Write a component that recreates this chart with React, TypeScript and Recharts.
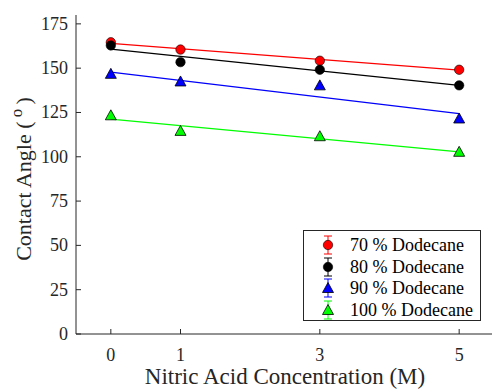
import React from 'react';
import { ComposedChart, Scatter, Line, XAxis, YAxis, Legend } from 'recharts';

const concentrations = [0, 1, 3, 5];
const dodecane70 = [164.6, 160.5, 154.2, 149.1];
const dodecane80 = [162.8, 153.4, 149.1, 140.3];
const dodecane90 = [146.8, 142.5, 140.3, 121.6];
const dodecane100 = [123.4, 114.6, 111.6, 102.8];

const fitX = [0, 5];
const fit70 = [164.0, 148.9];
const fit80 = [160.7, 140.3];
const fit90 = [147.8, 124.4];
const fit100 = [121.2, 102.8];

const xTicks = [0, 1, 3, 5];
const yTicks = [0, 25, 50, 75, 100, 125, 150, 175];
const seriesNames = ['70 % Dodecane', '80 % Dodecane', '90 % Dodecane', '100 % Dodecane'];
const seriesColors = ['#ff0000', '#000000', '#0000ff', '#00ff00'];
const seriesShapes = ['circle', 'circle', 'triangle', 'triangle'];

const FONT = "'Liberation Serif', 'Times New Roman', Tinos, serif";
const AXIS = '#262626';

const toPoints = (xs: number[], ys: number[]) => xs.map((x, i) => ({ x, y: ys[i] }));
const pointSeries = [dodecane70, dodecane80, dodecane90, dodecane100].map((ys) => toPoints(concentrations, ys));
const fitSeries = [fit70, fit80, fit90, fit100].map((ys) => toPoints(fitX, ys));

const Marker = ({ cx, cy, color, shape }: any) => {
  if (shape === 'triangle') {
    const pts = `${cx},${cy - 5.5} ${cx - 5.5},${cy + 4.5} ${cx + 5.5},${cy + 4.5}`;
    return <polygon points={pts} fill={color} stroke="#000" strokeWidth={0.8} />;
  }
  return <circle cx={cx} cy={cy} r={4.7} fill={color} stroke="#000" strokeWidth={0.6} />;
};

const txtStyle = { fontFamily: FONT };

const BottomTick = ({ x, y, payload }: any) => (
  <g>
    <line x1={x} x2={x} y1={y} y2={y - 5} stroke={AXIS} strokeWidth={1} />
    <text x={x} y={y + 27} textAnchor="middle" style={txtStyle} fontSize={18} fill={AXIS}>
      {payload.value}
    </text>
  </g>
);

const TopTick = ({ x, y }: any) => (
  <line x1={x} x2={x} y1={y} y2={y + 5} stroke={AXIS} strokeWidth={1} />
);

const LeftTick = ({ x, y, payload }: any) => (
  <g>
    <line x1={x} x2={x + 5} y1={y} y2={y} stroke={AXIS} strokeWidth={1} />
    <text x={x - 8} y={y + 6} textAnchor="end" style={txtStyle} fontSize={18} fill={AXIS}>
      {payload.value}
    </text>
  </g>
);

const RightTick = ({ x, y }: any) => (
  <line x1={x} x2={x - 5} y1={y} y2={y} stroke={AXIS} strokeWidth={1} />
);

const XLabel = ({ viewBox }: any) => {
  const cx = viewBox.x + viewBox.width / 2;
  return (
    <text x={cx} y={viewBox.y + 50} textAnchor="middle" style={txtStyle} fontSize={23} fill={AXIS}>
      Nitric Acid Concentration (M)
    </text>
  );
};

const YLabel = () => (
  <text x={31} y={179} transform="rotate(-90 31 179)" textAnchor="middle" style={txtStyle} fontSize={22} fill={AXIS}>
    Contact Angle (
    <tspan dy={-9} fontSize={17}> o </tspan>
    <tspan dy={9}>)</tspan>
  </text>
);

const LegendBox = () => (
  <div
    style={{
      width: 178,
      height: 91,
      boxSizing: 'border-box',
      border: `1px solid ${AXIS}`,
      background: '#fff',
      paddingTop: 3,
      fontFamily: FONT,
      fontSize: 18,
      color: '#000',
    }}
  >
    {seriesNames.map((name, i) => (
      <div key={name} style={{ height: 21.6, position: 'relative' }}>
        <svg width={24} height={22} style={{ position: 'absolute', left: 12, top: 0 }}>
          <line x1={12} x2={12} y1={2} y2={20} stroke={seriesColors[i]} strokeWidth={1} />
          <line x1={8} x2={16} y1={2} y2={2} stroke={seriesColors[i]} strokeWidth={1} />
          <line x1={8} x2={16} y1={20} y2={20} stroke={seriesColors[i]} strokeWidth={1} />
          <Marker cx={12} cy={11} color={seriesColors[i]} shape={seriesShapes[i]} />
        </svg>
        <span style={{ position: 'absolute', left: 46, lineHeight: '22px', top: 0, whiteSpace: 'nowrap', fontFamily: FONT }}>{name}</span>
      </div>
    ))}
  </div>
);

export default function App() {
  return (
    <div style={{ position: 'absolute', left: 0, top: 0, width: 492, height: 390, overflow: 'hidden', background: '#fff', fontFamily: FONT }}>
      <ComposedChart width={500} height={390} margin={{ top: 15, right: 6, bottom: 0, left: 0 }} style={{ fontFamily: FONT }}>
        <XAxis
          xAxisId="bottom"
          dataKey="x"
          type="number"
          domain={[-0.5, 5.5]}
          ticks={xTicks}
          orientation="bottom"
          height={56}
          tickSize={0}
          tickMargin={0}
          tick={<BottomTick />}
          tickLine={false}
          axisLine={{ stroke: AXIS, strokeWidth: 1 }}
          allowDataOverflow
          label={<XLabel />}
        />
        <XAxis
          xAxisId="top"
          dataKey="x"
          type="number"
          domain={[-0.5, 5.5]}
          ticks={xTicks}
          orientation="top"
          height={0}
          tickSize={0}
          tickMargin={0}
          tick={<TopTick />}
          tickLine={false}
          axisLine={{ stroke: AXIS, strokeWidth: 1 }}
          allowDataOverflow
        />
        <YAxis
          yAxisId="left"
          type="number"
          domain={[0, 180]}
          ticks={yTicks}
          orientation="left"
          width={76}
          tickSize={0}
          tickMargin={0}
          tick={<LeftTick />}
          tickLine={false}
          axisLine={{ stroke: AXIS, strokeWidth: 1 }}
          allowDataOverflow
          label={<YLabel />}
        />
        <YAxis
          yAxisId="right"
          type="number"
          domain={[0, 180]}
          ticks={yTicks}
          orientation="right"
          width={0}
          tickSize={0}
          tickMargin={0}
          tick={<RightTick />}
          tickLine={false}
          axisLine={{ stroke: AXIS, strokeWidth: 1 }}
          allowDataOverflow
        />
        {fitSeries.map((data, i) => (
          <Line
            key={`fit-${i}`}
            xAxisId="bottom"
            yAxisId="left"
            data={data}
            dataKey="y"
            type="linear"
            stroke={seriesColors[i]}
            strokeWidth={1.2}
            dot={false}
            activeDot={false}
            legendType="none"
            isAnimationActive={false}
          />
        ))}
        {pointSeries.map((data, i) => (
          <Scatter
            key={`pts-${i}`}
            xAxisId="bottom"
            yAxisId="left"
            data={data}
            dataKey="y"
            name={seriesNames[i]}
            fill={seriesColors[i]}
            shape={(p: any) => <Marker cx={p.cx} cy={p.cy} color={seriesColors[i]} shape={seriesShapes[i]} />}
            isAnimationActive={false}
          />
        ))}
        <Legend
          layout="vertical"
          align="center"
          verticalAlign="middle"
          content={<LegendBox />}
          wrapperStyle={{ position: 'absolute', left: 303, top: 230, width: 178, height: 91 }}
        />
      </ComposedChart>
    </div>
  );
}
